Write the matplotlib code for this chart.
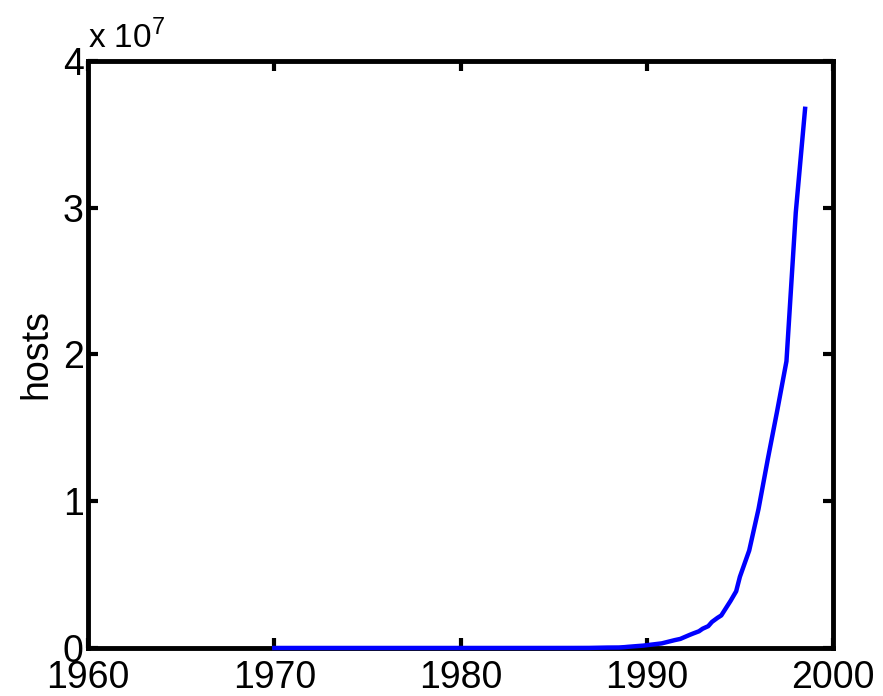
import matplotlib
matplotlib.use("Agg")
import matplotlib.pyplot as plt
from matplotlib.ticker import FuncFormatter

plt.rcParams['font.family'] = ['Liberation Sans', 'DejaVu Sans']
plt.rcParams['mathtext.fontset'] = 'custom'
plt.rcParams['mathtext.rm'] = 'Liberation Sans'

years = [1970.0, 1971.3, 1974.5, 1977.2, 1981.6, 1982.4, 1983.6, 1984.8, 1985.8,
         1986.1, 1986.9, 1987.9, 1988.5, 1988.8, 1989.0, 1989.5, 1989.8, 1990.8,
         1991.0, 1991.5, 1991.8, 1992.0, 1992.3, 1992.5, 1992.8, 1993.0, 1993.3,
         1993.5, 1993.8, 1994.0, 1994.5, 1994.8, 1995.0, 1995.5, 1996.0, 1996.5,
         1997.0, 1997.5, 1998.0, 1998.5]
hosts = [4, 23, 62, 111, 213, 235, 562, 1024, 1961,
         2308, 5089, 28174, 33000, 56000, 80000, 130000, 159000, 313000,
         376000, 535000, 617000, 727000, 890000, 992000, 1136000, 1313000, 1486000,
         1776000, 2056000, 2217000, 3212000, 3864000, 4852000, 6642000, 9472000, 12881000,
         16146000, 19540000, 29670000, 36739000]

xticks = [1960, 1970, 1980, 1990, 2000]
yticks = [0, 1e7, 2e7, 3e7, 4e7]

fig = plt.figure(figsize=(8.83, 6.96), dpi=100)
ax = fig.add_axes([0.0997, 0.069, 0.8437, 0.8434])
ax.plot(years, hosts, color='#0000ff', linewidth=3.2, zorder=3, clip_on=False)
ax.set_xlim(1960, 2000)
ax.set_ylim(0, 4e7)
ax.set_xticks(xticks)
ax.set_yticks(yticks)
ax.yaxis.set_major_formatter(FuncFormatter(lambda v, p: f"{v/1e7:g}"))
ax.tick_params(direction='in', length=7, width=3, top=True, right=True,
               labelsize=27, pad=3)
ax.tick_params(axis='x', pad=9)
for s in ax.spines.values():
    s.set_linewidth(3.5)
ax.set_ylabel('hosts', fontsize=27, labelpad=6)
ax.text(0.0, 1.01, r'x 10$^{7}$', transform=ax.transAxes, fontsize=24,
        ha='left', va='bottom')
fig.savefig('out.png', dpi=100)
